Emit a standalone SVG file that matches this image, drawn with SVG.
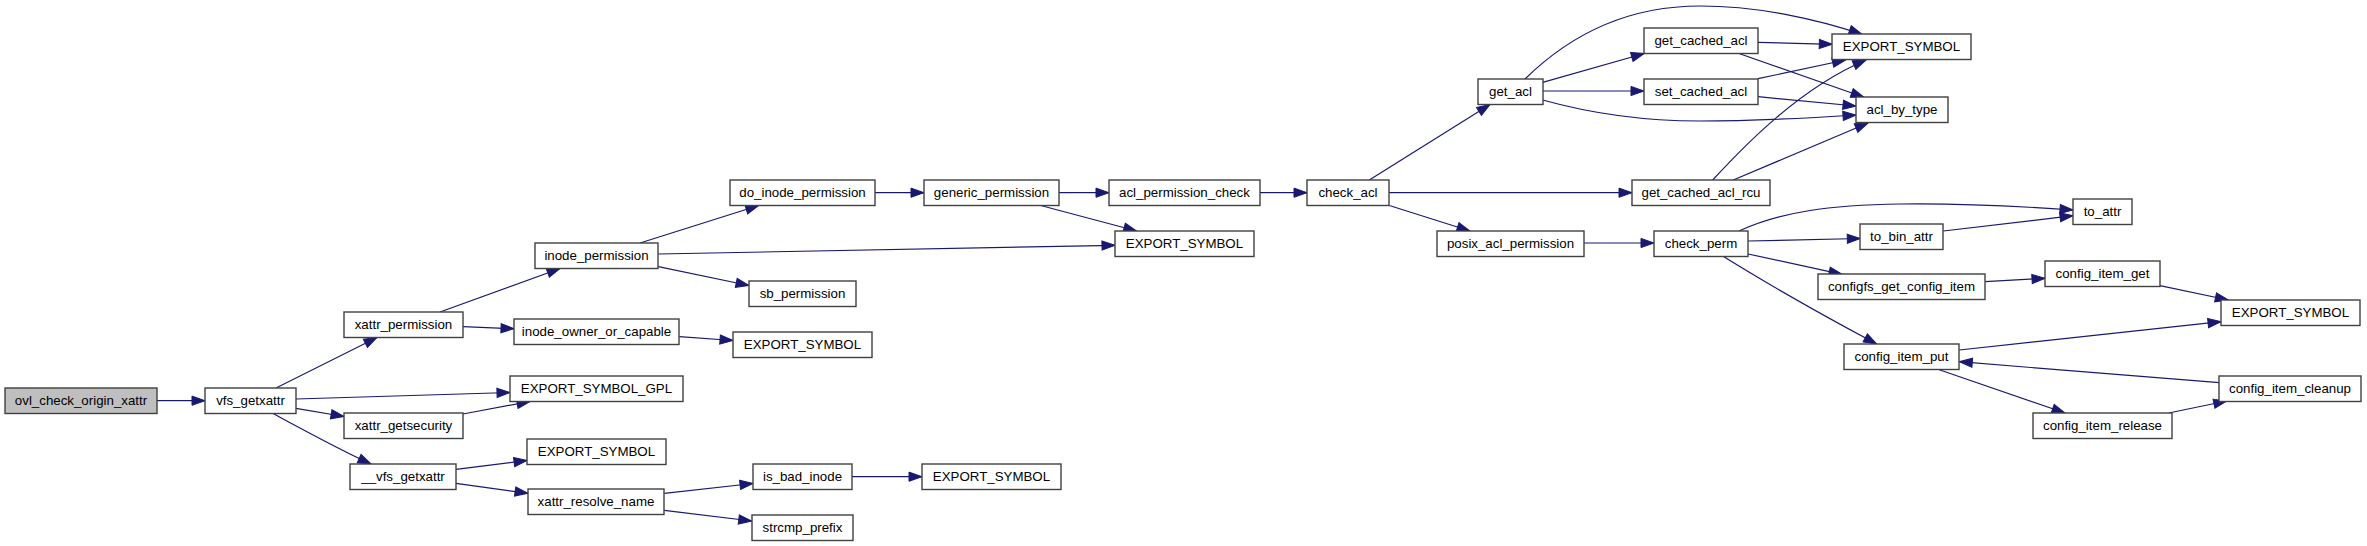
<svg xmlns="http://www.w3.org/2000/svg" width="2367" height="546" viewBox="0 0 2367 546">
<style>
.n rect{fill:#fff;stroke:#404040;stroke-width:1.4}
.n.root rect{fill:#bfbfbf}
.n text{font-family:"Liberation Sans",Arial,sans-serif;font-size:13.3px;fill:#000;text-anchor:middle}
.e path{fill:none;stroke:#191970;stroke-width:1.2;marker-end:url(#ah)}
</style>
<defs>
<marker id="ah" markerUnits="userSpaceOnUse" markerWidth="16" markerHeight="12" refX="13" refY="5" orient="auto" overflow="visible">
<path d="M0,0.4 L13,5 L0,9.6 z" fill="#191970" stroke="#191970" stroke-width="1"/>
</marker>
</defs>
<rect width="2367" height="546" fill="#fff"/>
<g id="connectors" class="e">
<path d="M157,400.7 L205,400.7"/>
<path d="M276,388 L377,337.5"/>
<path d="M296,399 L510,392.5"/>
<path d="M296,408.3 L344,416.5"/>
<path d="M273,413.5 C300,428 340,450 371,464"/>
<path d="M440,312 L560,268.5"/>
<path d="M463,326.7 L514,328.7"/>
<path d="M463,414 L530,401.5"/>
<path d="M456,469.3 L527,460.5"/>
<path d="M456,483.3 L528,493.3"/>
<path d="M640,243 L758.7,205.5"/>
<path d="M658.3,254 L1115,245.3"/>
<path d="M658.3,266.7 L749,285.5"/>
<path d="M679.3,336.7 L733,340.5"/>
<path d="M664.3,493.3 L753,483.5"/>
<path d="M664.3,510.3 L751.7,521"/>
<path d="M852,476.7 L922,476.7"/>
<path d="M875,192.7 L924,192.7"/>
<path d="M1059,192.7 L1109,192.7"/>
<path d="M1040.7,205.5 L1136.7,231"/>
<path d="M1260,192.7 L1307,192.7"/>
<path d="M1369.3,180 L1490,104.5"/>
<path d="M1389,192.7 L1632,192.7"/>
<path d="M1389.3,205.5 L1470,231"/>
<path d="M1525,79 C1580,25 1640,6 1700,6 C1760,6 1820,20 1862,34.3"/>
<path d="M1542.7,82.3 L1644.3,53.5"/>
<path d="M1542.7,91 L1644,91"/>
<path d="M1542.7,100 C1600,116 1650,121 1700,121 C1760,121 1810,118 1856,115"/>
<path d="M1758,42.3 L1832.3,44.3"/>
<path d="M1738.3,53.3 L1864,97.3"/>
<path d="M1758,78.7 L1845.5,60"/>
<path d="M1758,96.7 L1856,106"/>
<path d="M1712.7,180 C1745,145 1800,88 1866,60"/>
<path d="M1733.3,180 L1868,123"/>
<path d="M1584,243 L1654,243"/>
<path d="M1739,231 C1780,212 1830,205 1900,204 C1970,203 2030,207 2073,210"/>
<path d="M1748,241 L1860.3,238.5"/>
<path d="M1748,254 L1842,274.3"/>
<path d="M1722.7,256 C1750,273 1800,303 1876.7,344"/>
<path d="M1943.3,231 L2073,215.7"/>
<path d="M1985.3,281.7 L2045,278.3"/>
<path d="M2160,285.7 L2228.3,300"/>
<path d="M1959.3,350 L2221,321.7"/>
<path d="M1939.3,369.7 L2065,413"/>
<path d="M2168.7,413 L2226.7,401"/>
<path d="M2219.3,382.7 L1959.3,361.7"/>
</g>
<g id="n_ovl_check_origin_xattr" class="n root"><rect x="5" y="388" width="152" height="25.5"/><text x="81" y="405.2">ovl_check_origin_xattr</text></g>
<g id="n_vfs_getxattr" class="n"><rect x="205" y="388" width="91" height="25.5"/><text x="250.5" y="405.2">vfs_getxattr</text></g>
<g id="n_xattr_permission" class="n"><rect x="344" y="312" width="119" height="25.5"/><text x="403.5" y="329.2">xattr_permission</text></g>
<g id="n_xattr_getsecurity" class="n"><rect x="344" y="413" width="119" height="25.5"/><text x="403.5" y="430.2">xattr_getsecurity</text></g>
<g id="n___vfs_getxattr" class="n"><rect x="350" y="464" width="106" height="25.5"/><text x="403" y="481.2">__vfs_getxattr</text></g>
<g id="n_inode_permission" class="n"><rect x="535" y="243" width="123" height="25.5"/><text x="596.5" y="260.2">inode_permission</text></g>
<g id="n_inode_owner_or_capable" class="n"><rect x="514" y="319" width="165" height="25.5"/><text x="596.5" y="336.2">inode_owner_or_capable</text></g>
<g id="n_EXPORT_SYMBOL_GPL" class="n"><rect x="510" y="376" width="173" height="25.5"/><text x="596.5" y="393.2">EXPORT_SYMBOL_GPL</text></g>
<g id="n_EXPORT_SYMBOL_b" class="n"><rect x="527" y="439" width="139" height="25.5"/><text x="596.5" y="456.2">EXPORT_SYMBOL</text></g>
<g id="n_xattr_resolve_name" class="n"><rect x="528" y="489" width="136" height="25.5"/><text x="596" y="506.2">xattr_resolve_name</text></g>
<g id="n_do_inode_permission" class="n"><rect x="730" y="180" width="145" height="25.5"/><text x="802.5" y="197.2">do_inode_permission</text></g>
<g id="n_sb_permission" class="n"><rect x="749" y="281" width="107" height="25.5"/><text x="802.5" y="298.2">sb_permission</text></g>
<g id="n_EXPORT_SYMBOL_a" class="n"><rect x="733" y="332" width="139" height="25.5"/><text x="802.5" y="349.2">EXPORT_SYMBOL</text></g>
<g id="n_is_bad_inode" class="n"><rect x="753" y="464" width="99" height="25.5"/><text x="802.5" y="481.2">is_bad_inode</text></g>
<g id="n_strcmp_prefix" class="n"><rect x="752" y="515" width="101" height="25.5"/><text x="802.5" y="532.2">strcmp_prefix</text></g>
<g id="n_generic_permission" class="n"><rect x="924" y="180" width="135" height="25.5"/><text x="991.5" y="197.2">generic_permission</text></g>
<g id="n_EXPORT_SYMBOL_c" class="n"><rect x="922" y="464" width="139" height="25.5"/><text x="991.5" y="481.2">EXPORT_SYMBOL</text></g>
<g id="n_acl_permission_check" class="n"><rect x="1109" y="180" width="151" height="25.5"/><text x="1184.5" y="197.2">acl_permission_check</text></g>
<g id="n_EXPORT_SYMBOL_d" class="n"><rect x="1115" y="231" width="139" height="25.5"/><text x="1184.5" y="248.2">EXPORT_SYMBOL</text></g>
<g id="n_check_acl" class="n"><rect x="1307" y="180" width="82" height="25.5"/><text x="1348" y="197.2">check_acl</text></g>
<g id="n_get_acl" class="n"><rect x="1478" y="79" width="65" height="25.5"/><text x="1510.5" y="96.2">get_acl</text></g>
<g id="n_posix_acl_permission" class="n"><rect x="1437" y="231" width="147" height="25.5"/><text x="1510.5" y="248.2">posix_acl_permission</text></g>
<g id="n_get_cached_acl" class="n"><rect x="1644" y="28" width="114" height="25.5"/><text x="1701" y="45.2">get_cached_acl</text></g>
<g id="n_set_cached_acl" class="n"><rect x="1644" y="79" width="114" height="25.5"/><text x="1701" y="96.2">set_cached_acl</text></g>
<g id="n_get_cached_acl_rcu" class="n"><rect x="1632" y="180" width="138" height="25.5"/><text x="1701" y="197.2">get_cached_acl_rcu</text></g>
<g id="n_check_perm" class="n"><rect x="1654" y="231" width="94" height="25.5"/><text x="1701" y="248.2">check_perm</text></g>
<g id="n_EXPORT_SYMBOL_e" class="n"><rect x="1832" y="34" width="139" height="25.5"/><text x="1901.5" y="51.2">EXPORT_SYMBOL</text></g>
<g id="n_acl_by_type" class="n"><rect x="1856" y="97" width="92" height="25.5"/><text x="1902" y="114.2">acl_by_type</text></g>
<g id="n_to_bin_attr" class="n"><rect x="1860" y="224" width="83" height="25.5"/><text x="1901.5" y="241.2">to_bin_attr</text></g>
<g id="n_configfs_get_config_item" class="n"><rect x="1818" y="274" width="167" height="25.5"/><text x="1901.5" y="291.2">configfs_get_config_item</text></g>
<g id="n_config_item_put" class="n"><rect x="1844" y="344" width="115" height="25.5"/><text x="1901.5" y="361.2">config_item_put</text></g>
<g id="n_to_attr" class="n"><rect x="2073" y="199" width="59" height="25.5"/><text x="2102.5" y="216.2">to_attr</text></g>
<g id="n_config_item_get" class="n"><rect x="2045" y="261" width="115" height="25.5"/><text x="2102.5" y="278.2">config_item_get</text></g>
<g id="n_EXPORT_SYMBOL_f" class="n"><rect x="2221" y="300" width="139" height="25.5"/><text x="2290.5" y="317.2">EXPORT_SYMBOL</text></g>
<g id="n_config_item_release" class="n"><rect x="2033" y="413" width="139" height="25.5"/><text x="2102.5" y="430.2">config_item_release</text></g>
<g id="n_config_item_cleanup" class="n"><rect x="2219" y="376" width="142" height="25.5"/><text x="2290" y="393.2">config_item_cleanup</text></g>
</svg>
